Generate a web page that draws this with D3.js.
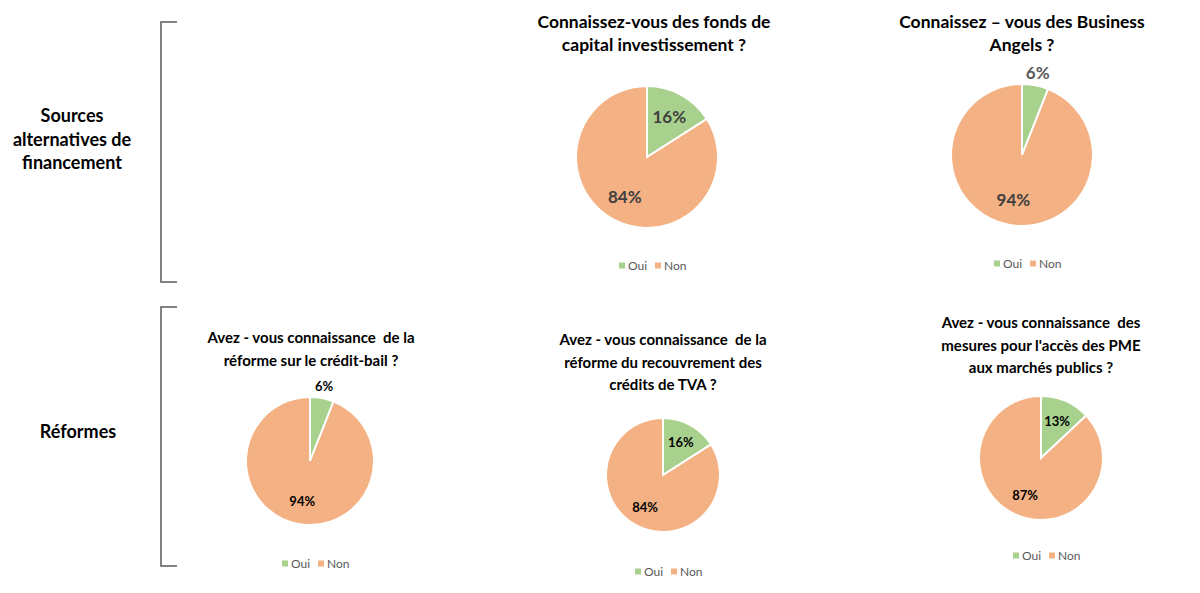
<!DOCTYPE html>
<html>
<head>
<meta charset="utf-8">
<script src="https://cdn.jsdelivr.net/npm/d3@7"></script>
<style>
  body { margin: 0; background: #fff; }
  text { font-family: Lato, "Open Sans", sans-serif; white-space: pre; }
</style>
</head>
<body>
<div id="chart"></div>
<script>
// data
var categories = ['Oui', 'Non'];
var titles = [
    ['Connaissez-vous des fonds de', 'capital investissement ?'],
    ['Connaissez \u2013 vous des Business', 'Angels ?'],
    ['Avez - vous connaissance  de la', 'r\u00e9forme sur le cr\u00e9dit-bail ?'],
    ['Avez - vous connaissance  de la', 'r\u00e9forme du recouvrement des', 'cr\u00e9dits de TVA ?'],
    ['Avez - vous connaissance  des', "mesures pour l'acc\u00e8s des PME", 'aux march\u00e9s publics ?']
];
var ouiValues = [16, 6, 6, 16, 13];
var nonValues = [84, 94, 94, 84, 87];
var groupLabels = [
    ['Sources', 'alternatives de', 'financement'],
    ['R\u00e9formes']
];

// layout
var layout = [
    {cx: 647, cy: 157, r: 71, tx: 654, ty: 28, ly: 266, big: true},
    {cx: 1022, cy: 155, r: 71, tx: 1022, ty: 28, ly: 264, big: true},
    {cx: 310, cy: 461, r: 64, tx: 311, ty: 343, ly: 564, big: false},
    {cx: 663, cy: 475, r: 57, tx: 663, ty: 345, ly: 572, big: false},
    {cx: 1041, cy: 458, r: 62, tx: 1041, ty: 328, ly: 556, big: false}
];
var groupLayout = [
    {x: 72, y: 122, top: 22, bottom: 282},
    {x: 78, y: 438, top: 307, bottom: 566}
];

var width = 1200, height = 593,
    svg = d3.select('#chart')
        .append('svg')
        .attr('width', width)
        .attr('height', height);

var color = d3.scaleOrdinal().domain(categories).range(['#a9d18e', '#f4b183']);

var pie = d3.pie().sort(null).value(function (d) {
    return d.value;
});

// group labels and brackets
groupLabels.forEach(function (lines, i) {
    var gl = groupLayout[i];
    var t = svg.append('text')
        .attr('text-anchor', 'middle')
        .attr('font-size', 18)
        .attr('font-weight', 'bold')
        .attr('fill', '#000');
    lines.forEach(function (line, j) {
        t.append('tspan').attr('x', gl.x).attr('y', gl.y + j * 23.5).text(line);
    });
    svg.append('path')
        .attr('d', 'M177,' + gl.top + 'H161V' + gl.bottom + 'H177')
        .attr('fill', 'none')
        .attr('stroke', '#595959')
        .attr('stroke-width', 1.5);
});

titles.forEach(function (lines, i) {
    var L = layout[i];
    var data = categories.map(function (c, k) {
        return {cat: c, value: k === 0 ? ouiValues[i] : nonValues[i]};
    });
    var g = svg.append('g');

    var t = g.append('text')
        .attr('text-anchor', 'middle')
        .attr('font-size', L.big ? 17.5 : 15)
        .attr('font-weight', 'bold')
        .attr('fill', '#000');
    lines.forEach(function (line, j) {
        t.append('tspan').attr('x', L.tx).attr('y', L.ty + j * 22.5).text(line);
    });

    var pg = g.append('g').attr('transform', 'translate(' + L.cx + ',' + L.cy + ')');
    var path = d3.arc().innerRadius(0).outerRadius(L.r);
    var inner = d3.arc().innerRadius(L.r * 0.65).outerRadius(L.r * 0.65);
    var outer = d3.arc().innerRadius(L.r * 1.18).outerRadius(L.r * 1.18);

    var arcs = pg.selectAll('.arc')
        .data(pie(data))
        .enter().append('g')
        .attr('class', 'arc');

    arcs.append('path')
        .attr('d', path)
        .attr('fill', function (d) { return color(d.data.cat); })
        .attr('stroke', '#fff')
        .attr('stroke-width', 2);

    arcs.append('text')
        .attr('transform', function (d) {
            var small = d.data.value < 10;
            return 'translate(' + (small ? outer : inner).centroid(d) + ')';
        })
        .attr('text-anchor', 'middle')
        .attr('dy', '0.35em')
        .attr('font-size', L.big ? 17 : 13)
        .attr('font-weight', 'bold')
        .attr('fill', function (d) {
            if (!L.big) return '#000';
            return d.data.value < 10 ? '#595959' : '#404040';
        })
        .text(function (d) { return d.data.value + '%'; });

    // legend
    var lg = g.append('g').attr('transform', 'translate(' + (L.cx - 28) + ',' + L.ly + ')');
    var item = lg.selectAll('.leg')
        .data(categories)
        .enter().append('g')
        .attr('transform', function (d, k) { return 'translate(' + (k * 36) + ',0)'; });
    item.append('rect')
        .attr('x', 0).attr('y', -3.5)
        .attr('width', 6).attr('height', 6)
        .attr('fill', function (d) { return color(d); });
    item.append('text')
        .attr('x', 9)
        .attr('dy', '0.35em')
        .attr('font-size', 12)
        .attr('fill', '#595959')
        .text(function (d) { return d; });
});
</script>
</body>
</html>
